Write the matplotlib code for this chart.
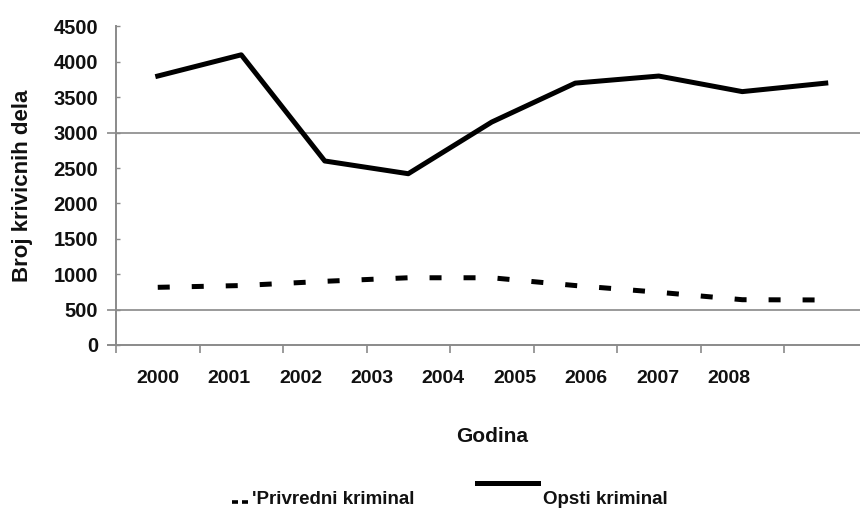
import matplotlib
matplotlib.use("Agg")
import matplotlib.pyplot as plt
from matplotlib.lines import Line2D
import numpy as np

years = ["2000", "2001", "2002", "2003", "2004", "2005", "2006", "2007", "2008"]
opsti = [3800, 4100, 2600, 2420, 3150, 3700, 3800, 3580, 3700]
privredni = [815, 840, 900, 950, 950, 840, 745, 640, 636]
grid_values = [500, 3000]
y_ticks = [0, 500, 1000, 1500, 2000, 2500, 3000, 3500, 4000, 4500]

plt.rcParams['font.family'] = ['Liberation Sans', 'DejaVu Sans']
plt.rcParams['font.weight'] = 'bold'

W, H = 860, 508
fig = plt.figure(figsize=(W / 100, H / 100), dpi=100)
ax = fig.add_axes([116 / W, 163 / H, 760 / W, (345 - 26.5) / H])

x = np.arange(len(years))
ax.plot(x, opsti, color='black', lw=3.6, solid_joinstyle='round', zorder=3)
ax.plot(x, privredni, color='black', lw=3.6, dashes=(2.4, 4.4),
        dash_capstyle='butt', zorder=3)

for g in grid_values:
    ax.axhline(g, xmin=-0.011, color='#9a9a9a', lw=1.4, clip_on=False, zorder=1)

ax.set_xlim(-0.5, -0.5 + 760 / 83.5)
ax.set_ylim(0, 4500)

for s in ['top', 'right']:
    ax.spines[s].set_visible(False)
for s in ['left', 'bottom']:
    ax.spines[s].set_color('#8a8a8a')
    ax.spines[s].set_linewidth(1.4)
ax.spines['bottom'].set_bounds(-0.5 - 8 / 83.5, -0.5 + 760 / 83.5)

ax.set_yticks(y_ticks)
ax.set_yticklabels([str(v) for v in y_ticks])
ax.tick_params(axis='y', direction='in', length=3, width=1, color='#8a8a8a',
               pad=13, labelsize=14.5, labelcolor='#111111')

label_pos = np.arange(len(years)) * 0.855
ax.set_xticks(label_pos)
ax.set_xticklabels(years)
ax.set_xticks(np.arange(len(years)) - 0.5, minor=True)
ax.tick_params(axis='x', which='major', length=0, pad=18, labelsize=14,
               labelcolor='#111111')
ax.tick_params(axis='x', which='minor', direction='out', length=6, width=1.2,
               color='#8a8a8a')

fig.text(23 / W, 1 - 186 / H, 'Broj krivicnih dela', rotation=90, ha='center',
         va='center', fontsize=16, fontweight='bold', color='#111111')
fig.text(492 / W, 1 - 437 / H, 'Godina', ha='center', va='center',
         fontsize=15, fontweight='bold', color='#111111')

# legend
for x0 in (232, 242):
    fig.add_artist(Line2D([x0 / W, (x0 + 6) / W], [1 - 502 / H, 1 - 502 / H],
                          color='black', lw=2.6, solid_capstyle='butt'))
fig.text(252 / W, 1 - 499 / H, "'Privredni kriminal", ha='left', va='center',
         fontsize=13.5, fontweight='bold', color='#111111')
fig.add_artist(Line2D([477 / W, 538 / W], [1 - 483 / H, 1 - 483 / H],
                      color='black', lw=3.6))
fig.text(543 / W, 1 - 499 / H, 'Opsti kriminal', ha='left', va='center',
         fontsize=13.5, fontweight='bold', color='#111111')

fig.savefig('out.png', dpi=100)
